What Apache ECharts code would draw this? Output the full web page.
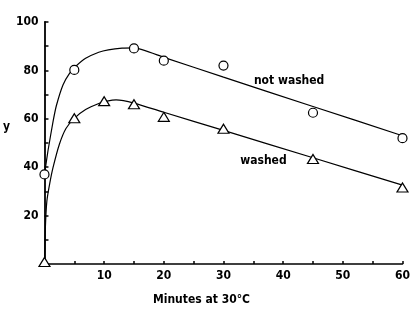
<!DOCTYPE html>
<html>
<head>
<meta charset="utf-8">
<script src="https://cdn.jsdelivr.net/npm/echarts@6/dist/echarts.min.js"></script>
<style>
  html, body { margin: 0; padding: 0; background: #fff; }
  #chart { width: 413px; height: 311px; }
</style>
</head>
<body>
<div id="chart"></div>
<script>
// measured points (minutes, y)
var notWashedPts = [[0, 37], [5, 80.2], [15, 89.1], [20, 84], [30, 82], [45, 62.5], [60, 52]];
var washedPts = [[0, 0.8], [5, 60.2], [10, 67.3], [15, 66], [20, 60.8], [30, 55.9], [45, 43.4], [60, 31.6]];

// hand-drawn fitted curves
var notWashedCurve = [[0, 37], [0.6, 47], [1.45, 59], [2, 65.5], [3.1, 74], [4.2, 78.8], [5.3, 81.8], [6.9, 85], [9.1, 87.5], [10.7, 88.5], [13, 89.2], [15, 89.3], [20, 85.4], [30, 77.2], [45, 65.1], [60, 53]];
var washedCurve = [[0, 0], [0.15, 15], [0.4, 26], [0.9, 33.5], [1.45, 40], [2.5, 49.5], [3.6, 56], [5, 60.2], [6.9, 63.8], [9.1, 66.3], [10.5, 67.3], [12, 67.8], [15, 66.5], [20, 62.7], [30, 55.2], [45, 43.9], [60, 32.6]];

var curveLabels = [['not washed', 41, 75.5], ['washed', 36.7, 42.5]];

var font = 'DejaVu Sans Condensed';

var chart = echarts.init(document.getElementById('chart'));
chart.setOption({
  animation: false,
  grid: { left: 40, right: 7, top: 22, bottom: 45 },
  xAxis: {
    type: 'value', min: 0, max: 60, interval: 5,
    name: 'Minutes at 30°C', nameLocation: 'middle', nameGap: 30,
    nameTextStyle: { color: '#000', fontFamily: font, fontWeight: 'bold', fontSize: 12, padding: [0, 44, 0, 0] },
    axisLine: { lineStyle: { color: '#000', width: 1.5 } },
    axisTick: { inside: true, length: 3, lineStyle: { color: '#000', width: 1.5 } },
    axisLabel: {
      color: '#000', fontFamily: font, fontWeight: 'bold', fontSize: 12, margin: 6,
      formatter: function (v) { return (v > 0 && v % 10 === 0) ? v : ''; }
    },
    splitLine: { show: false }
  },
  yAxis: {
    type: 'value', min: 0, max: 100, interval: 10,
    name: 'y', nameLocation: 'middle', nameGap: 23, nameRotate: 0,
    nameTextStyle: { color: '#000', fontFamily: font, fontWeight: 'bold', fontSize: 12, verticalAlign: 'bottom', padding: [0, 0, 10, 0] },
    axisLine: { show: true, lineStyle: { color: '#000', width: 1.8 } },
    axisTick: { inside: true, length: 4, lineStyle: { color: '#000', width: 1.5 } },
    axisLabel: {
      color: '#000', fontFamily: font, fontWeight: 'bold', fontSize: 12, margin: 6,
      formatter: function (v) { return (v > 0 && v % 20 === 0) ? v : ''; }
    },
    splitLine: { show: false }
  },
  series: [
    {
      type: 'line', data: notWashedCurve, smooth: 0.2, symbol: 'none',
      lineStyle: { color: '#000', width: 1.2 }
    },
    {
      type: 'line', data: washedCurve, smooth: 0.2, symbol: 'none',
      lineStyle: { color: '#000', width: 1.2 }
    },
    {
      type: 'scatter', data: notWashedPts, symbol: 'circle', symbolSize: 9,
      itemStyle: { color: '#fff', borderColor: '#000', borderWidth: 1.2, opacity: 1 }, z: 5
    },
    {
      type: 'scatter', data: washedPts, symbol: 'triangle', symbolSize: [11, 9],
      itemStyle: { color: '#fff', borderColor: '#000', borderWidth: 1.2, opacity: 1 }, z: 5
    },
    {
      type: 'scatter', symbolSize: 0, silent: true,
      itemStyle: { opacity: 1 },
      data: curveLabels.map(function (d) { return { name: d[0], value: [d[1], d[2]] }; }),
      label: {
        show: true, position: 'inside', formatter: '{b}',
        color: '#000', fontFamily: font, fontWeight: 'bold', fontSize: 12
      }
    }
  ]
});
</script>
</body>
</html>
